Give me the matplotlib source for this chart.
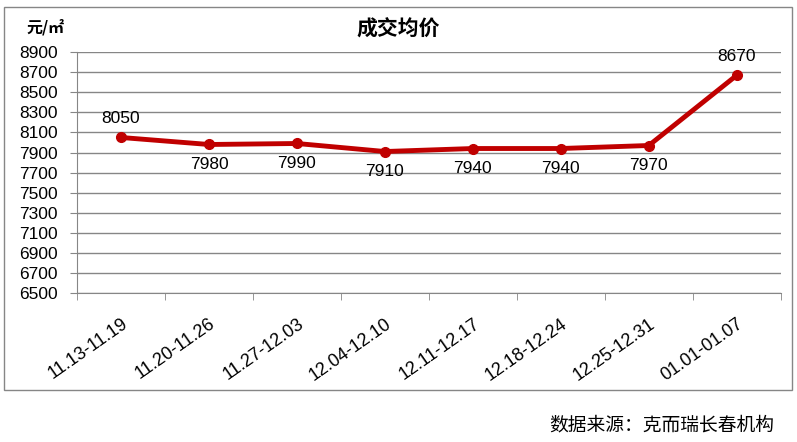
import matplotlib.pyplot as plt
import numpy as np
from matplotlib.patches import Rectangle

plt.rcParams['font.family'] = ['Liberation Sans', 'Noto Sans CJK SC', 'DejaVu Sans']

weeks = ["11.13-11.19", "11.20-11.26", "11.27-12.03", "12.04-12.10",
         "12.11-12.17", "12.18-12.24", "12.25-12.31", "01.01-01.07"]
price = [8050, 7980, 7990, 7910, 7940, 7940, 7970, 8670]
yticks = list(range(6500, 8901, 200))

fig = plt.figure(figsize=(7.97, 4.42), dpi=100)
ax = fig.add_axes([0.0966, 0.337, 0.883, 0.545])

x = np.arange(len(weeks))
ax.plot(x, price, color="#C00000", lw=3.5, marker="o", ms=7, zorder=3)

# 数据标签
for i, v in enumerate(price):
    if i == 0 or i == len(price) - 1:
        ax.annotate(str(v), (i, v), xytext=(0, 8), textcoords="offset points",
                    ha="center", va="bottom", fontsize=12.5)
    else:
        ax.annotate(str(v), (i, v), xytext=(0, -9), textcoords="offset points",
                    ha="center", va="top", fontsize=12.5)

ax.set_xlim(-0.5, len(weeks) - 0.5)
ax.set_ylim(6500, 8900)
ax.set_yticks(yticks)
ax.set_yticklabels([str(t) for t in yticks], fontsize=12.5)
ax.yaxis.grid(True, color="#868686", lw=1)
ax.set_axisbelow(True)
ax.tick_params(axis="y", length=5, color="#868686", pad=9)

ax.set_xticks(x)
ax.set_xticklabels(weeks, rotation=35, ha="right", rotation_mode="anchor", fontsize=13)
ax.set_xticks(np.arange(-0.5, len(weeks)), minor=True)
ax.tick_params(axis="x", which="major", length=0, pad=16)
ax.tick_params(axis="x", which="minor", length=5, color="#868686")

for s in ["top", "right"]:
    ax.spines[s].set_visible(False)
ax.spines["left"].set_color("#868686")
ax.spines["bottom"].set_color("#868686")

fig.text(0.5, 0.935, "成交均价", ha="center", va="center", fontsize=15,
         fontweight="bold", family=["Noto Sans CJK SC", "DejaVu Sans"])
fig.text(0.057, 0.938, "元/㎡", ha="center", va="center", fontsize=11.5,
         fontweight="bold", family=["Noto Sans CJK SC", "DejaVu Sans"])

fig.patches.append(Rectangle((0.005, 1 - 390 / 442), 0.989, (390 - 7) / 442,
                             transform=fig.transFigure, fill=False,
                             ec="#868686", lw=1))

fig.text(0.972, 0.038, "数据来源：克而瑞长春机构", ha="right", va="center",
         fontsize=13.5, family=["Noto Sans CJK SC", "DejaVu Sans"])

plt.savefig("out.png", dpi=100)
